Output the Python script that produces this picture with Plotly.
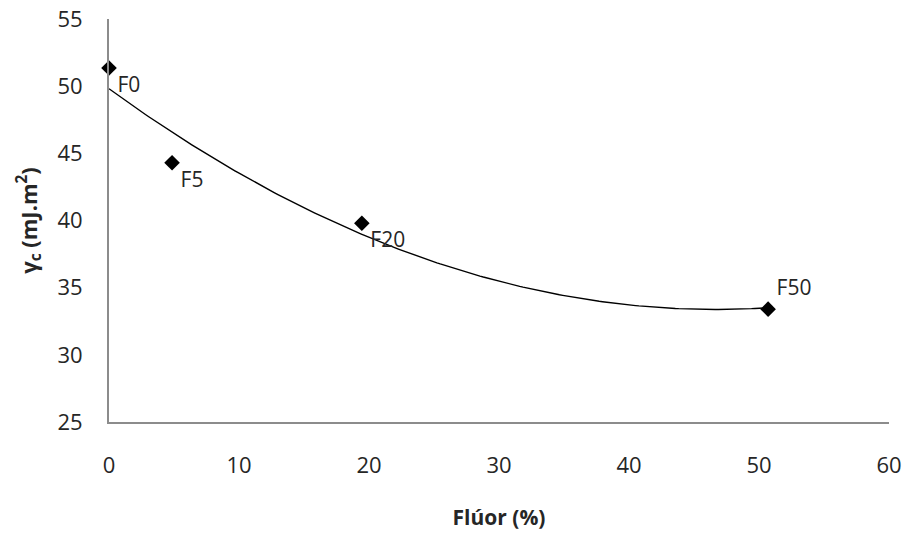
import numpy as np
import plotly.graph_objects as go

labels = ["F0", "F5", "F20", "F50"]
label_pos = ["bottom right", "bottom right", "bottom right", "top right"]
fluor = [0.0, 4.85, 19.45, 50.7]
gamma_c = [51.35, 44.3, 39.8, 33.4]

# Excel-style 2nd-order polynomial trendline fitted to the data
coef = np.polyfit(fluor, gamma_c, 2)
xt = np.linspace(min(fluor), max(fluor), 200)
yt = np.polyval(coef, xt)

FONT = "Open Sans"
TXT = "#262626"
fig = go.Figure()
fig.add_trace(go.Scatter(x=xt, y=yt, mode="lines",
                         line=dict(color="black", width=1.4),
                         hoverinfo="skip", showlegend=False, cliponaxis=False))
fig.add_trace(go.Scatter(x=fluor, y=gamma_c, mode="markers+text",
                         text=labels, textposition=label_pos,
                         textfont=dict(family=FONT, size=21, color=TXT),
                         marker=dict(symbol="diamond", size=12, color="black"),
                         showlegend=False, cliponaxis=False))

fig.update_layout(
    width=907, height=533,
    margin=dict(l=109, r=18, t=19, b=111, autoexpand=False),
    plot_bgcolor="white", paper_bgcolor="white",
    font=dict(family=FONT, size=21, color=TXT),
)
fig.update_xaxes(range=[0, 60], dtick=10, showgrid=False, zeroline=False,
                 showline=True, linecolor="#8c8c8c", linewidth=2,
                 ticks="", ticklabelstandoff=23, automargin=False,
                 tickfont=dict(size=22, color=TXT),
                 title=dict(text="<b>Flúor (%)</b>", font=dict(size=21, color=TXT), standoff=32))
fig.update_yaxes(range=[25, 55], dtick=5, showgrid=False, zeroline=False,
                 showline=True, linecolor="#8c8c8c", linewidth=2,
                 ticks="", ticklabelstandoff=20, automargin=False,
                 tickfont=dict(size=22, color=TXT),
                 title=dict(text="<b>γ<sub>c</sub> (mJ.m<sup>2</sup>)</b>", font=dict(size=22, color=TXT), standoff=14))

fig.write_html("out.html")
